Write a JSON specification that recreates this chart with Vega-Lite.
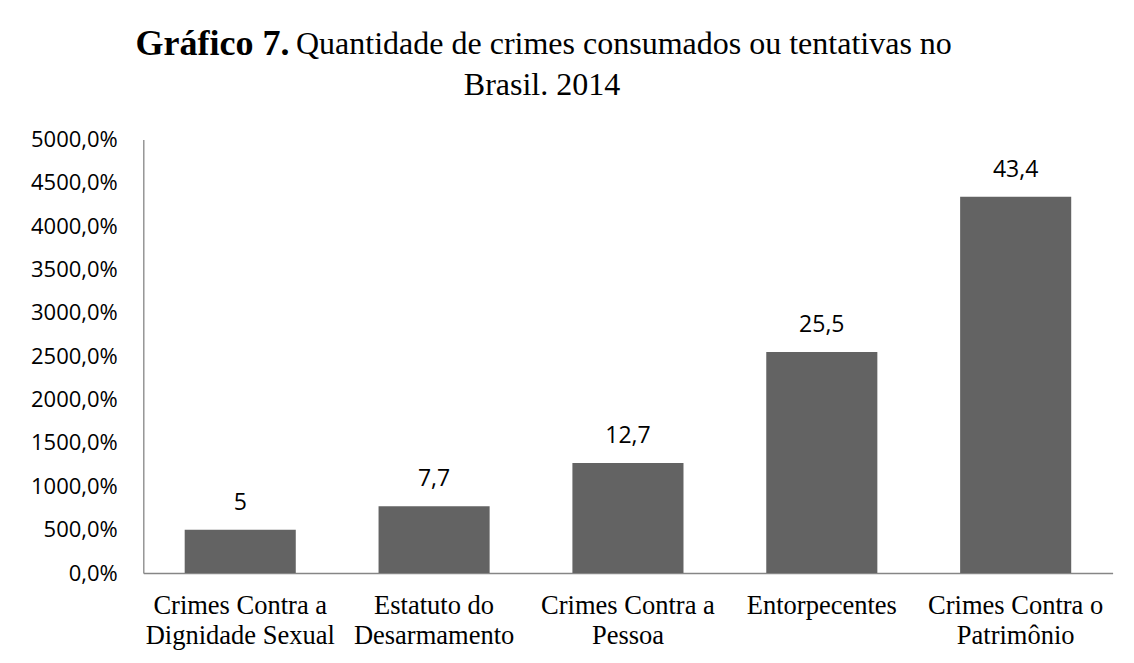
{
  "$schema": "https://vega.github.io/schema/vega-lite/v6.json",
  "autosize": "none",
  "width": 969.3,
  "height": 433.5,
  "padding": {"left": 143.3, "top": 139.5, "right": 21.4, "bottom": 90},
  "background": "white",
  "config": {
    "locale": {"number": {"decimal": ",", "thousands": ".", "grouping": [3], "currency": ["R$", ""]}},
    "view": {"stroke": null}
  },
  "title": {
    "text": "Quantidade de crimes consumados ou tentativas no",
    "font": "Liberation Serif",
    "fontSize": 32,
    "fontWeight": "normal",
    "color": "#000000",
    "anchor": "start",
    "frame": "group",
    "baseline": "alphabetic",
    "dx": 152.7,
    "dy": 61,
    "offset": 0
  },
  "data": {
    "values": [
      {"categoria": "Crimes Contra a\nDignidade Sexual", "valor": 5},
      {"categoria": "Estatuto do\nDesarmamento", "valor": 7.7},
      {"categoria": "Crimes Contra a\nPessoa", "valor": 12.7},
      {"categoria": "Entorpecentes", "valor": 25.5},
      {"categoria": "Crimes Contra o\nPatrimônio", "valor": 43.4}
    ]
  },
  "encoding": {
    "x": {
      "field": "categoria",
      "type": "nominal",
      "sort": null,
      "scale": {"paddingInner": 0.427, "paddingOuter": 0.2135},
      "axis": {
        "labelExpr": "split(datum.label, '\\n')",
        "labelAngle": 0,
        "labelFont": "Liberation Serif",
        "labelFontSize": 26.5,
        "labelLineHeight": 30,
        "labelColor": "#000000",
        "labelPadding": 19,
        "labelLimit": 0,
        "ticks": false,
        "domainColor": "#868686",
        "domainWidth": 1.3,
        "title": "Brasil. 2014",
        "titleFont": "Liberation Serif",
        "titleFontSize": 32,
        "titleFontWeight": "normal",
        "titleColor": "#000000",
        "titleX": 398.2,
        "titleY": -479,
        "titleAlign": "center",
        "titleBaseline": "alphabetic"
      }
    },
    "y": {
      "field": "valor",
      "type": "quantitative",
      "scale": {"domain": [0, 50], "nice": false},
      "axis": {
        "values": [0, 5, 10, 15, 20, 25, 30, 35, 40, 45, 50],
        "format": ".1%",
        "grid": false,
        "ticks": false,
        "domainColor": "#868686",
        "domainWidth": 1.3,
        "labelFont": "Open Sans",
        "labelFontSize": 22,
        "labelColor": "#000000",
        "labelPadding": 26,
        "title": "Gráfico 7.",
        "titleFont": "Liberation Serif",
        "titleFontSize": 36,
        "titleFontWeight": "bold",
        "titleColor": "#000000",
        "titleAngle": 0,
        "titleAlign": "left",
        "titleBaseline": "alphabetic",
        "titleX": -8.3,
        "titleY": -85.5
      }
    }
  },
  "layer": [
    {"mark": {"type": "bar", "color": "#636363"}},
    {
      "mark": {"type": "text", "font": "Open Sans", "fontSize": 23, "color": "#000000", "baseline": "alphabetic", "dy": -20},
      "encoding": {"text": {"field": "valor", "type": "quantitative", "format": ".3~g"}}
    }
  ]
}
